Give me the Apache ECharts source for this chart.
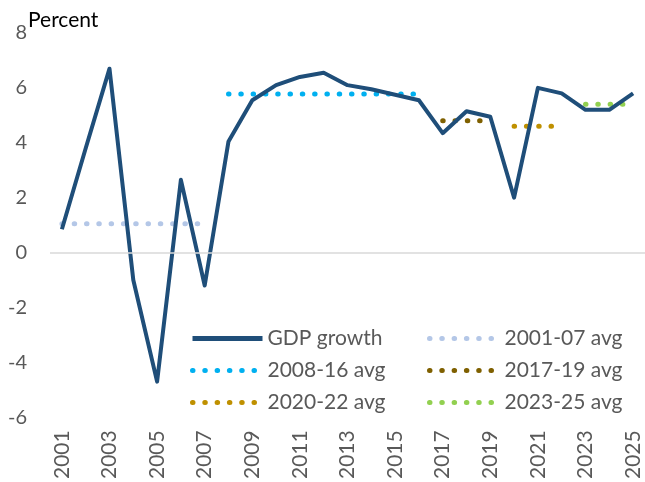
<!DOCTYPE html>
<html lang="en">
<head>
    <meta charset="UTF-8">
    <title>GDP growth</title>
    <script src="https://cdn.jsdelivr.net/npm/echarts@6/dist/echarts.min.js"></script>
</head>
<body style="margin:0">
<div id="main" style="width:645px; height:482px"></div>
<script type="text/javascript">
    // years and GDP growth (percent)
    var years = ['2001','2002','2003','2004','2005','2006','2007','2008','2009','2010','2011','2012','2013',
                 '2014','2015','2016','2017','2018','2019','2020','2021','2022','2023','2024','2025'];
    var gdp = [0.85, 3.8, 6.7, -1.0, -4.7, 2.65, -1.2, 4.05, 5.55, 6.1, 6.4, 6.55, 6.1,
               5.95, 5.75, 5.55, 4.35, 5.15, 4.95, 2.0, 6.0, 5.8, 5.2, 5.2, 5.8];

    // period averages
    var avgNames = ['2001-07 avg', '2008-16 avg', '2017-19 avg', '2020-22 avg', '2023-25 avg'];
    var avgValues = [1.05, 5.78, 4.8, 4.6, 5.4];
    var avgStart = ['2001', '2008', '2017', '2020', '2023'];
    var avgEnd = ['2007', '2016', '2019', '2022', '2025'];
    var avgColors = ['#b4c7e7', '#00b0f0', '#7f6000', '#bf9000', '#92d050'];

    var yTicks = { min: -6, max: 8, interval: 2 };

    var fontFam = 'Lato, "Noto Sans", sans-serif';
    var grey = '#595959';

    var myChart = echarts.init(document.getElementById('main'));

    var series = [{
        name: 'GDP growth',
        type: 'line',
        data: gdp,
        symbol: 'none',
        lineStyle: { color: '#1f4e79', width: 4, join: 'round' },
        itemStyle: { color: '#1f4e79' },
        z: 3,
        markLine: {
            silent: true,
            symbol: 'none',
            label: { show: false },
            lineStyle: { color: '#d9d9d9', width: 1.5, type: 'solid' },
            data: [{ yAxis: 0 }]
        }
    }];

    for (var i = 0; i < avgNames.length; i++) {
        var s = years.indexOf(avgStart[i]), e = years.indexOf(avgEnd[i]);
        var d = years.map(function (y, k) { return (k >= s && k <= e) ? avgValues[i] : null; });
        series.push({
            name: avgNames[i],
            type: 'line',
            data: d,
            symbol: 'none',
            lineStyle: { color: avgColors[i], width: 5, type: [0.5, 11.8], cap: 'round' },
            itemStyle: { color: avgColors[i] },
            z: 2
        });
    }

    // shared legend look (line only, no symbol in the middle)
    function legendCol(left, names) {
        return {
            orient: 'vertical',
            left: left, top: 323,
            itemWidth: 70, itemHeight: 14, itemGap: 11,
            data: names,
            itemStyle: { opacity: 0 },
            lineStyle: { width: 5 },
            textStyle: { fontFamily: fontFam, fontSize: 21, color: grey }
        };
    }

    myChart.setOption({
        animation: false,
        backgroundColor: '#fff',
        title: {
            text: 'Percent',
            left: 23, top: 5,
            textStyle: { fontFamily: fontFam, fontSize: 21, fontWeight: 'normal', color: '#000' }
        },
        legend: [
            legendCol(185, ['GDP growth', '2008-16 avg', '2020-22 avg']),
            legendCol(422, ['2001-07 avg', '2017-19 avg', '2023-25 avg'])
        ],
        grid: { left: 50, top: 33, width: 597, height: 385 },
        xAxis: {
            type: 'category',
            data: years,
            boundaryGap: true,
            axisLine: { show: false },
            axisTick: { show: false },
            axisLabel: {
                interval: 1, rotate: 90, margin: 13,
                fontFamily: fontFam, fontSize: 21, color: grey
            }
        },
        yAxis: {
            type: 'value',
            min: yTicks.min, max: yTicks.max, interval: yTicks.interval,
            axisLine: { show: false },
            axisTick: { show: false },
            splitLine: { show: false },
            axisLabel: { margin: 23, fontFamily: fontFam, fontSize: 20, color: grey }
        },
        series: series
    });
</script>
</body>
</html>
